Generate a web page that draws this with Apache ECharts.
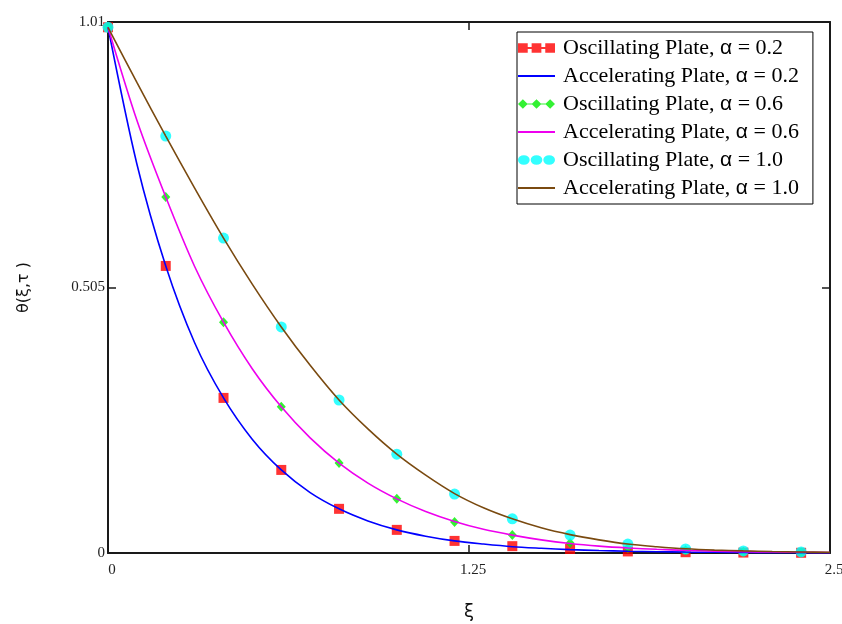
<!DOCTYPE html>
<html>
<head>
<meta charset="utf-8">
<script src="https://cdn.jsdelivr.net/npm/echarts@6/dist/echarts.min.js"></script>
<style>html,body{margin:0;padding:0;background:#fff}#c{width:842px;height:624px}</style>
</head>
<body>
<div id="c"></div>
<script>
// ---- data ----
var xLine = [0,0.1,0.2,0.3,0.4,0.5,0.6,0.7,0.8,0.9,1.0,1.1,1.2,1.3,1.4,1.5,1.6,1.7,1.8,1.9,2.0,2.1,2.2,2.3,2.4,2.5];
var accel02 = [1.0,0.74,0.546,0.40,0.295,0.216,0.158,0.115,0.084,0.061,0.044,0.032,0.023,0.017,0.012,0.009,0.0065,0.0047,0.0034,0.0025,0.0018,0.0013,0.0009,0.0007,0.0005,0.0004];
var accel06 = [1.0,0.823,0.677,0.545,0.439,0.350,0.278,0.219,0.171,0.133,0.103,0.079,0.060,0.045,0.034,0.025,0.018,0.013,0.0095,0.007,0.005,0.0036,0.0026,0.0018,0.0013,0.0009];
var accel10 = [1.0,0.895,0.793,0.694,0.599,0.511,0.430,0.357,0.291,0.236,0.188,0.148,0.113,0.086,0.065,0.048,0.035,0.025,0.017,0.012,0.008,0.0055,0.004,0.0028,0.002,0.0014];

var xMark = [0,0.2,0.4,0.6,0.8,1.0,1.2,1.4,1.6,1.8,2.0,2.2,2.4];
var osc02 = [1.0,0.546,0.295,0.158,0.084,0.044,0.023,0.013,0.0076,0.003,0.0015,0.0008,0.0004];
var osc06 = [1.0,0.677,0.439,0.278,0.171,0.103,0.059,0.034,0.019,0.0095,0.005,0.0025,0.0012];
var osc10 = [1.0,0.793,0.599,0.430,0.291,0.188,0.112,0.065,0.034,0.017,0.0076,0.004,0.002];

var xTickLabels = ['0','1.25','2.5'];
var yTickLabels = ['0','0.505','1.01'];

var names = ['Oscillating Plate, α = 0.2','Accelerating Plate, α = 0.2',
             'Oscillating Plate, α = 0.6','Accelerating Plate, α = 0.6',
             'Oscillating Plate, α = 1.0','Accelerating Plate, α = 1.0'];

function pairs(xs, ys){ return xs.map(function(x,i){ return [x, ys[i]]; }); }

var iconSq = 'path://M0,0h10v10h-10zM14,0h10v10h-10zM28,0h10v10h-10zM10,4h4v2h-4zM24,4h4v2h-4z';
var iconDi = 'path://M0,5L5,0L10,5L5,10zM14,5L19,0L24,5L19,10zM28,5L33,0L38,5L33,10zM9,4.4h6v1.2h-6zM23,4.4h6v1.2h-6z';
var iconCi = 'path://M0,5a6,5 0 1,0 12,0a6,5 0 1,0 -12,0zM13,5a6,5 0 1,0 12,0a6,5 0 1,0 -12,0zM26,5a6,5 0 1,0 12,0a6,5 0 1,0 -12,0z';
var iconLn = 'path://M0,0L0.01,0M0,10L0.01,10M0,4h38v2h-38z';

var chart = echarts.init(document.getElementById('c'));
var axisColor = '#1a1a1a';
var labelFont = {fontFamily:'Liberation Serif', fontSize:15, color:'#222'};

chart.setOption({
  animation:false,
  backgroundColor:'#fff',
  grid:{left:108, right:12, top:22, bottom:71, containLabel:false, outerBoundsMode:'none'},
  legend:{
    orient:'vertical', left:517, top:32,
    padding:[5,14,5,1],
    itemGap:6, itemWidth:37, itemHeight:10,
    borderColor:'#000', borderWidth:1, backgroundColor:'#fff',
    data:[
      {name:names[0], icon:iconSq},
      {name:names[1], icon:iconLn},
      {name:names[2], icon:iconDi},
      {name:names[3], icon:iconLn},
      {name:names[4], icon:iconCi},
      {name:names[5], icon:iconLn}
    ],
    formatter:function(n){
      var p = n.split('α');
      return '{t|' + p[0] + '}{g|α}{t|' + p[1] + '}';
    },
    textStyle:{
      padding:[0,0,0,3],
      rich:{
        t:{fontFamily:'Liberation Serif', fontSize:22, lineHeight:22, color:'#000'},
        g:{fontFamily:'Liberation Sans', fontSize:21, lineHeight:22, color:'#000'}
      }
    }
  },
  xAxis:[{
    type:'value', min:0, max:2.5, interval:1.25,
    name:'ξ', nameLocation:'middle', nameGap:50,
    nameTextStyle:{fontFamily:'DejaVu Sans', fontSize:18, color:'#111'},
    axisLine:{show:true, onZero:false, lineStyle:{color:axisColor, width:2}},
    axisTick:{show:true, inside:true, length:8, lineStyle:{color:axisColor, width:1.5}},
    axisLabel:Object.assign({margin:10, padding:[0,0,0,8], showMaxLabel:true, showMinLabel:true,
      formatter:function(v){ return xTickLabels[Math.round(v/1.25)]; }}, labelFont),
    splitLine:{show:false}
  },{
    type:'value', position:'top', min:0, max:2.5, interval:1.25,
    axisLine:{show:true, onZero:false, lineStyle:{color:axisColor, width:2}},
    axisTick:{show:true, inside:true, length:8, lineStyle:{color:axisColor, width:1.5}},
    axisLabel:{show:false}, splitLine:{show:false}
  }],
  yAxis:[{
    type:'value', min:0, max:1.01, interval:0.505,
    name:'θ(ξ,τ )', nameLocation:'middle', nameGap:76, nameRotate:90,
    nameTextStyle:{fontFamily:'DejaVu Sans', fontSize:16, color:'#111'},
    axisLine:{show:true, onZero:false, lineStyle:{color:axisColor, width:2}},
    axisTick:{show:true, inside:true, length:8, lineStyle:{color:axisColor, width:1.5}},
    axisLabel:Object.assign({margin:3, padding:[6,0,0,0], showMaxLabel:true, showMinLabel:true,
      formatter:function(v){ return yTickLabels[Math.round(v/0.505)]; }}, labelFont),
    splitLine:{show:false}
  },{
    type:'value', position:'right', min:0, max:1.01, interval:0.505,
    axisLine:{show:true, onZero:false, lineStyle:{color:axisColor, width:2}},
    axisTick:{show:true, inside:true, length:8, lineStyle:{color:axisColor, width:1.5}},
    axisLabel:{show:false}, splitLine:{show:false}
  }],
  series:[
    {name:names[0], type:'scatter', symbol:'rect', symbolSize:10, z:2,
     itemStyle:{color:'#ff0000'}, data:pairs(xMark, osc02)},
    {name:names[2], type:'scatter', symbol:'diamond', symbolSize:[9,10], z:2,
     itemStyle:{color:'#00ee00'}, data:pairs(xMark, osc06)},
    {name:names[4], type:'scatter', symbol:'circle', symbolSize:11, z:2,
     itemStyle:{color:'#00ffff'}, data:pairs(xMark, osc10)},
    {name:names[1], type:'line', symbol:'none', smooth:0.3, z:3,
     itemStyle:{color:'#0000ff'}, lineStyle:{color:'#0000ff', width:1.6}, data:pairs(xLine, accel02)},
    {name:names[3], type:'line', symbol:'none', smooth:0.3, z:3,
     itemStyle:{color:'#ee00ee'}, lineStyle:{color:'#ee00ee', width:1.6}, data:pairs(xLine, accel06)},
    {name:names[5], type:'line', symbol:'none', smooth:0.3, z:3,
     itemStyle:{color:'#7a4a10'}, lineStyle:{color:'#7a4a10', width:1.6}, data:pairs(xLine, accel10)}
  ]
});
</script>
</body>
</html>
